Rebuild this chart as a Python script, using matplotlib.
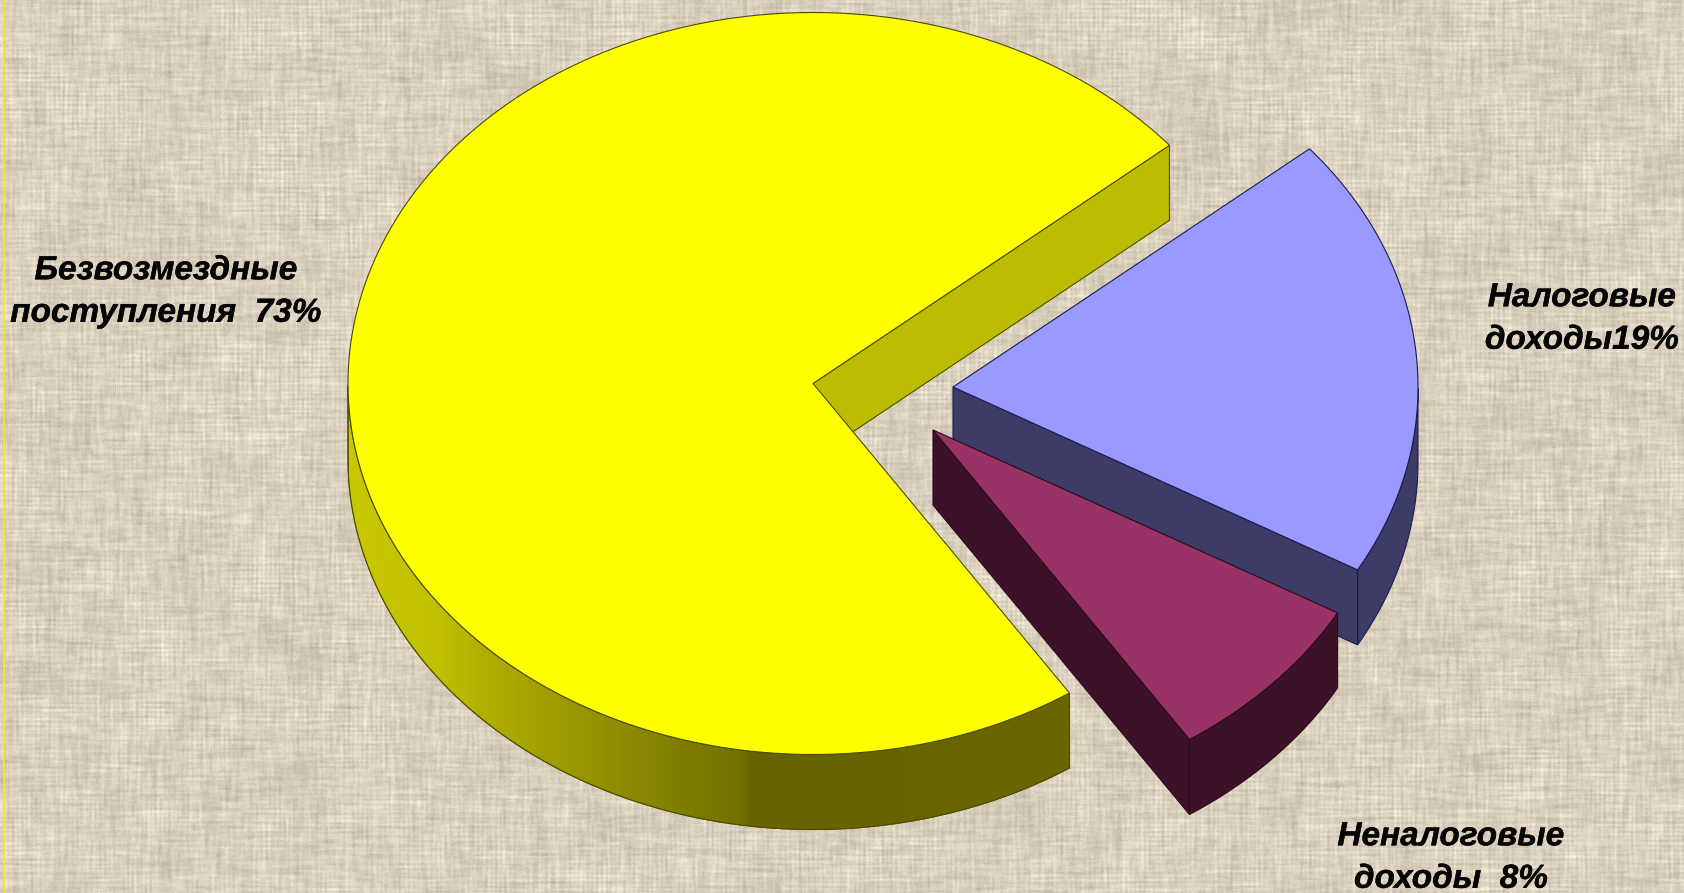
"""
Revenue structure: exploded pseudo-3D pie on a burlap background.
"""

import numpy as np
import matplotlib
matplotlib.use('Agg')
import matplotlib.pyplot as plt
import matplotlib.patheffects as pe
from matplotlib.colors import LinearSegmentedColormap
from matplotlib.patches import Polygon

# Data, clockwise from the start angle, in drawing order
# labels print rounded percents, the slices are a bit more exact
categories = ['Налоговые\nдоходы19%', 'Неналоговые\nдоходы  8%', 'Безвозмездные\nпоступления  73%']
shares = [19.3, 7.5, 73.2]

# Layout, in pixels of the 1684x893 picture
W, H = 1684, 893
START_ANGLE = 39.95
RX, RY = 465, 371
DEPTH = 75
centers = [(953, 387), (933, 430), (813, 383.5)]
top_colors = ['#9999ff', '#993366', '#ffff00']
side_colors = ['#3c3c66', '#3d1229', '#bcbc00']
edge_colors = ['#1c1c50', '#2a0a1a', '#4d4d00']
label_pos = [(1582, 319), (1451, 858), (166, 292)]
draw_order = [2, 0, 1]

# Lit from the left: colour of the yellow rim against x pixel
rim_stops = [(349, '#c8c800'), (437, '#c0c000'), (485, '#b0ae00'), (582, '#989600'),
             (679, '#807e00'), (740, '#747100'), (752, '#666300'), (1071, '#6a6700')]


def smooth(a, width, axis):
    # box blur along one axis, wraps around
    kernel = np.zeros(a.shape[axis])
    kernel[:width] = 1 / width
    shape = [1, 1]
    shape[axis] = -1
    return np.real(np.fft.ifft(np.fft.fft(a, axis=axis) * np.fft.fft(kernel).reshape(shape), axis=axis))


def burlap(h, w, seed=7):
    # woven texture: dark thread clusters along rows and columns
    rng = np.random.RandomState(seed)
    across = smooth(rng.normal(0, 1, (h, w)), 26, 1)
    along = smooth(rng.normal(0, 1, (h, w)), 26, 0)
    across = smooth(across, 3, 0)
    along = smooth(along, 3, 1)
    across /= across.std()
    along /= along.std()
    patch = smooth(smooth(rng.normal(0, 1, (h, w)), 45, 0), 45, 1)
    patch /= patch.std()
    weave = (np.sin(np.arange(h) * 2 * np.pi / 4.6)[:, None]
             + np.sin(np.arange(w) * 2 * np.pi / 4.6)[None, :])
    v = (5 * across + 5 * along + 2.5 * patch + 3 * weave * (1 + 0.5 * patch)
         + 2.5 * rng.normal(0, 1, (h, w)))
    base = np.array([218, 208, 189])[None, None, :]
    return np.clip(base + v[:, :, None], 0, 255).astype(np.uint8)


def arc(center, a0, a1, n=200):
    t = np.radians(np.linspace(a0, a1, n))
    return np.column_stack([center[0] + RX * np.cos(t), center[1] - RY * np.sin(t)])


def extrude(pts):
    return np.vstack([pts, pts[::-1] + [0, DEPTH]])


fig = plt.figure(figsize=(W / 100, H / 100), dpi=100)
ax = fig.add_axes([0, 0, 1, 1])
ax.set_xlim(0, W)
ax.set_ylim(H, 0)
ax.axis('off')

ax.imshow(burlap(H, W), extent=(0, W, H, 0), aspect='auto', zorder=0, interpolation='bilinear')
ax.axvline(4, color='#f2ea30', linewidth=1.2, zorder=1)

rim_cmap = LinearSegmentedColormap.from_list(
    'rim', [((x - rim_stops[0][0]) / (rim_stops[-1][0] - rim_stops[0][0]), c) for x, c in rim_stops])

# slice angles, clockwise
bounds = START_ANGLE - np.cumsum([0] + shares) / sum(shares) * 360

for z, i in enumerate(draw_order):
    z = 2 + 3 * z
    a1, a0 = bounds[i], bounds[i + 1]
    c = np.array(centers[i])
    rim = arc(c, a0, a1)

    # a radial wall shows only if going down from it leaves the slice
    if np.cos(np.radians(a0)) > 0:
        ax.add_patch(Polygon(extrude(np.array([c, rim[0]])), closed=True, fc=side_colors[i],
                             ec=edge_colors[i], lw=0.8, zorder=z))
    if np.cos(np.radians(a1)) < 0:
        ax.add_patch(Polygon(extrude(np.array([c, rim[-1]])), closed=True, fc=side_colors[i],
                             ec=edge_colors[i], lw=0.8, zorder=z))

    # only the front part of the rim shows
    t = np.radians(np.linspace(a0, a1, 200))
    front = rim[np.sin(t) <= 0]
    rim_patch = Polygon(extrude(front), closed=True, fc=side_colors[i],
                        ec=edge_colors[i], lw=0.8, zorder=z + 1)
    ax.add_patch(rim_patch)
    if top_colors[i] == '#ffff00':
        grad = np.linspace(0, 1, 700)[None, :]
        img = ax.imshow(grad, extent=(rim_stops[0][0], rim_stops[-1][0], H, 0), cmap=rim_cmap,
                        aspect='auto', zorder=z + 1.5)
        img.set_clip_path(rim_patch)
        ax.add_patch(Polygon(extrude(front), closed=True, fc='none',
                             ec=edge_colors[i], lw=0.8, zorder=z + 1.6))
    ax.add_patch(Polygon(np.vstack([c, rim]), closed=True, fc=top_colors[i],
                         ec=edge_colors[i], lw=0.8, zorder=z + 2))

ax.set_xlim(0, W)
ax.set_ylim(H, 0)

for text, (x, y) in zip(categories, label_pos):
    ax.text(x, y, text, ha='center', va='center', family='Liberation Sans', weight='bold',
            style='italic', fontsize=24, color='#050505', linespacing=1.48, zorder=20,
            path_effects=[pe.withStroke(linewidth=0.3, foreground='#050505')])

plt.savefig('out.png', dpi=100)
plt.close()
